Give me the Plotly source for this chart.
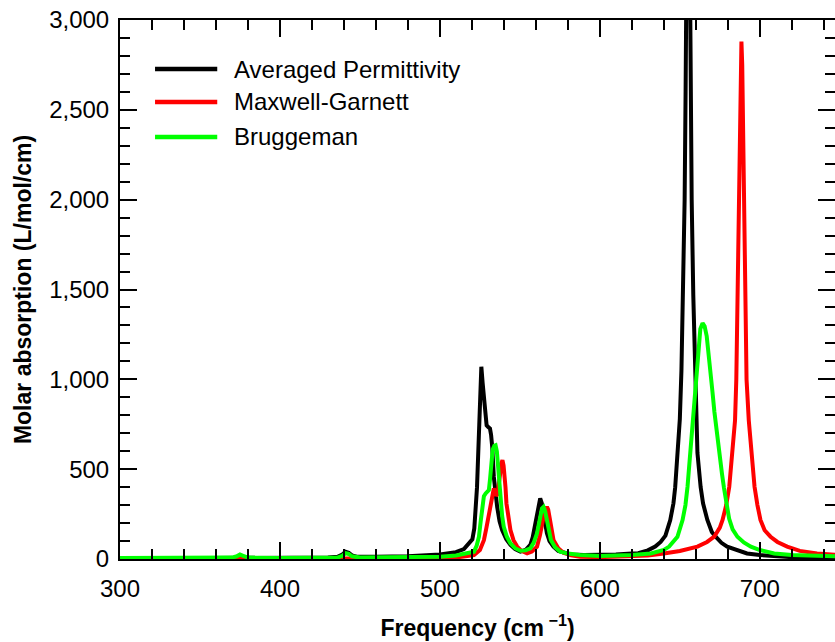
import plotly.graph_objects as go

# ---- data ----
freq_avg = [300, 350, 400, 430, 436, 439, 441, 443, 445, 448, 460, 480, 500, 505, 510, 515, 518,
            520.3, 521.5, 522.4, 523.2, 523.8, 524.5, 525, 525.9, 526.7, 527.5, 528.3, 529.2, 530.2,
            531.3, 532, 532.7, 533.7, 534.7, 535.8, 537.3, 538.9, 541.5, 544.1, 547, 550.3, 553.5,
            556.5, 558, 559.6, 560.7, 561.7, 562.7, 563.7, 564.8, 566, 566.9, 568.5, 571, 574, 577.2,
            582, 590, 600, 610, 620, 624, 630, 634.6, 638, 641, 644, 646, 647.1, 648.8, 650, 651,
            652, 653, 653.6, 654.2, 655.2, 656.2, 656.8, 657.4, 658.4, 659.4, 660.2, 661, 663, 664.5,
            667.2, 670, 672.4, 676, 679.6, 685, 692, 700, 710, 720, 735, 750]
abs_avg = [3, 4, 6, 8, 12, 25, 40, 34, 20, 13, 12, 15, 25, 32, 38, 55, 85,
           110, 170, 272, 400, 550, 750, 920, 1070, 980, 900, 800, 744, 735,
           726, 690, 624, 457, 360, 290, 210, 161, 110, 78, 55, 41, 50,
           78, 120, 198, 265, 319, 337, 310, 254, 190, 143, 100, 69, 45, 35,
           25, 22, 22, 25, 30, 32, 48, 69, 95, 130, 217, 310, 400, 590, 780, 1050,
           1470, 2000, 2600, 3400, 4600, 3400, 2600, 2000, 1470, 1050, 780, 590, 400, 310,
           217, 150, 124, 90, 69, 50, 31, 22, 15, 10, 7, 5]

freq_mg = [300, 400, 441, 500, 510, 516, 521.3, 525, 527.5, 529, 530.6, 532.3, 533.7, 534.5, 535.2,
           536, 536.8, 537.6, 538.3, 539.1, 539.8, 540.4, 541, 541.6, 542.8, 544.1, 546, 548.3, 551,
           554.5, 557.5, 560.7, 562.5, 564.4, 565.5, 566.9, 567.7, 568.5, 569.7, 571, 574, 577.2,
           582, 587.6, 600, 620, 630, 640, 650, 661, 667, 671.5, 675, 676.7, 679, 680.9, 683, 684.5,
           685.3, 686.1, 686.8, 687.4, 688, 688.5, 689, 689.6, 690.2, 690.9, 691.7, 693.1, 694.6,
           696.7, 698.5, 700.4, 703, 706.7, 711, 717.1, 725, 735.8, 750]
abs_mg = [2, 2, 4, 4, 8, 15, 22, 50, 105, 170, 254, 346, 393, 375, 352,
          360, 402, 470, 531, 550, 520, 476, 400, 309, 220, 161, 105, 69, 45,
          31, 42, 69, 130, 217, 265, 290, 275, 235, 165, 106, 60, 35,
          20, 13, 10, 15, 20, 31, 45, 69, 95, 124, 175, 217, 300, 402, 587, 772,
          1000, 1450, 1900, 2350, 2750, 2880, 2750, 2350, 1900, 1450, 1000, 772, 587,
          402, 300, 217, 160, 124, 95, 69, 45, 31, 22]

freq_br = [300, 360, 370, 373, 375, 377, 380, 400, 436, 439, 441, 443, 445, 450, 480, 500, 510,
           516, 521.3, 523, 524.4, 525.5, 526.5, 527.5, 528.6, 529.6, 530.6, 531.4, 532.1, 533, 534,
           534.8, 535.6, 536.4, 537.2, 537.9, 538.9, 539.9, 541.8, 544.1, 547, 550.3, 553.5, 556.5,
           558.6, 560.7, 562.5, 563.8, 564.8, 565.8, 566.9, 568.2, 569.4, 572, 575.2, 580, 587.6,
           600, 620, 631.9, 640, 643.3, 646, 648.5, 651.7, 653.5, 654.8, 656.4, 657.9, 659.3, 660.6,
           661.7, 662.8, 664.2, 665.5, 666.8, 668, 669.2, 670.4, 671.6, 672.8, 674, 675.2, 676.4,
           677.6, 679, 680.8, 683, 686, 690, 694.4, 700, 709, 720, 735, 750]
abs_br = [5, 5, 8, 15, 25, 18, 8, 6, 8, 18, 32, 28, 15, 8, 10, 13, 20,
          30, 41, 75, 124, 210, 290, 350, 365, 372, 383, 450, 550, 610, 630,
          633, 600, 513, 420, 328, 240, 180, 125, 87, 60, 46, 48, 59,
          90, 143, 230, 281, 290, 265, 217, 150, 106, 65, 41, 30, 22,
          17, 22, 31, 50, 69, 95, 124, 217, 300, 402, 587, 720, 880, 1020,
          1180, 1280, 1313, 1295, 1240, 1150, 1040, 930, 820, 720, 630, 550, 470,
          395, 320, 225, 165, 124, 92, 69, 50, 31, 22, 17, 14]

series_names = ["Averaged Permittivity", "Maxwell-Garnett", "Bruggeman"]
series_colors = ["#000000", "#ff0000", "#00ff00"]

x_ticks = [300, 400, 500, 600, 700]
y_ticks = [0, 500, 1000, 1500, 2000, 2500, 3000]
y_tick_labels = ["0", "500", "1,000", "1,500", "2,000", "2,500", "3,000"]

FONT = "Liberation Sans, Arial, Helvetica, sans-serif"

fig = go.Figure()
for xs, ys, name, col in zip([freq_avg, freq_mg, freq_br], [abs_avg, abs_mg, abs_br],
                             series_names, series_colors):
    fig.add_trace(go.Scatter(x=xs, y=ys, mode="lines", name=name,
                             line=dict(color=col, width=4), showlegend=False))

# custom legend (long line samples like the reference)
leg_y = [0.909, 0.848, 0.783]
for yy, name, col in zip(leg_y, series_names, series_colors):
    fig.add_shape(type="line", xref="paper", yref="paper", x0=0.049, x1=0.136, y0=yy, y1=yy,
                  line=dict(color=col, width=4.5))
    fig.add_annotation(xref="paper", yref="paper", x=0.157, y=yy, text=name, showarrow=False,
                       xanchor="left", yanchor="middle", font=dict(family=FONT, size=24, color="#000"))

axis_common = dict(showline=True, linecolor="#000", linewidth=2, mirror="ticks",
                   ticks="inside", tickwidth=2, tickcolor="#000", ticklen=17,
                   showgrid=False, zeroline=False, ticklabeloverflow="allow",
                   tickfont=dict(family=FONT, size=24, color="#000"))

fig.update_xaxes(range=[300, 747], tickvals=x_ticks,
                 minor=dict(dtick=20, tick0=300, ticks="inside", ticklen=10, tickwidth=2,
                            tickcolor="#000", showgrid=False),
                 title=dict(text="<b>Frequency (cm<sup> −1</sup>)</b>", standoff=19,
                            font=dict(family=FONT, size=23, color="#000")),
                 ticklabelstandoff=7,
                 **axis_common)
fig.update_yaxes(range=[0, 3000], tickvals=y_ticks, ticktext=y_tick_labels,
                 minor=dict(dtick=100, tick0=0, ticks="inside", ticklen=10, tickwidth=2,
                            tickcolor="#000", showgrid=False),
                 title=dict(text="<b>Molar absorption (L/mol/cm)</b>", standoff=11,
                            font=dict(family=FONT, size=23, color="#000")),
                 ticklabelstandoff=4,
                 **axis_common)

fig.update_layout(width=835, height=642, margin=dict(l=120, r=0, t=20, b=83, autoexpand=False),
                  plot_bgcolor="white", paper_bgcolor="white",
                  font=dict(family=FONT, color="#000"))

# remove the default 8px page margin so the figure fills the 835x642 window exactly
fig.write_html("out.html", config={"displayModeBar": False},
               post_script="document.body.style.margin='0';document.body.style.overflow='hidden';")
